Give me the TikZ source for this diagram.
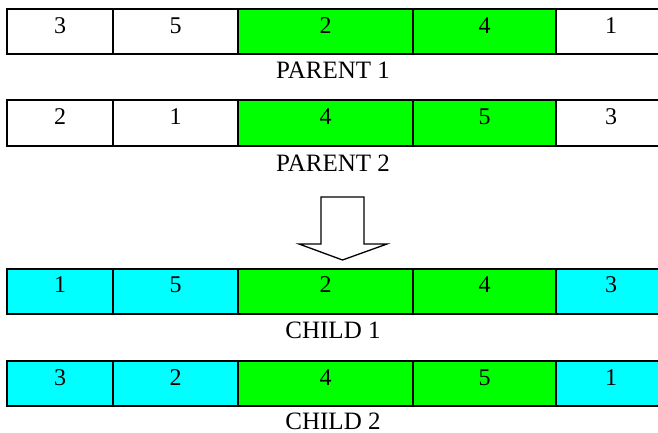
\documentclass[tikz,border=0pt]{standalone}
\usepackage{fontspec}
\setmainfont{Liberation Serif}
\definecolor{gsel}{HTML}{00FF00}
\definecolor{cchild}{HTML}{00FFFF}
\begin{document}
\begin{tikzpicture}[x=1pt,y=-1pt,
  cellbox/.style={draw=black, line width=2pt, anchor=north west, inner sep=0pt, outer sep=0pt, minimum height=45pt},
  digit/.style={anchor=base, inner sep=0pt, font=\fontsize{24}{28}\selectfont},
  rowlabel/.style={anchor=base, inner sep=0pt, font=\fontsize{25}{29}\selectfont},
  bigarrow/.style={draw=black, line width=1.3pt, fill=white, line join=miter}]
\clip (0,0) rectangle (658,433);
\foreach \r/\top/\lab/\lbase/\a/\b/\c/\d/\e/\side in {
  p1/9.5/PARENT 1/79/3/5/2/4/1/white,
  p2/100.5/PARENT 2/171/2/1/4/5/3/white,
  c1/268.5/CHILD 1/338/1/5/2/4/3/cchild,
  c2/361/CHILD 2/429/3/2/4/5/1/cchild}{
  \foreach \i/\x/\w/\v/\col in {1/7/106/\a/\side, 2/113/125/\b/\side, 3/238/175/\c/gsel, 4/413/143/\d/gsel, 5/556/110/\e/\side}{
    \node[cellbox, fill=\col, minimum width=\w pt] (\r-\i) at (\x,\top) {};
    \node[digit] (\r-t\i) at ([yshift=-24pt]\r-\i.north) {\v};
  }
  \node[rowlabel] (\r-lab) at (333,\lbase) {\lab};
}
\draw[bigarrow] (321,197) -- (364,197) -- (364,244) -- (387,244) -- (342.5,260) -- (299,244) -- (321,244) -- cycle;
\end{tikzpicture}
\end{document}
